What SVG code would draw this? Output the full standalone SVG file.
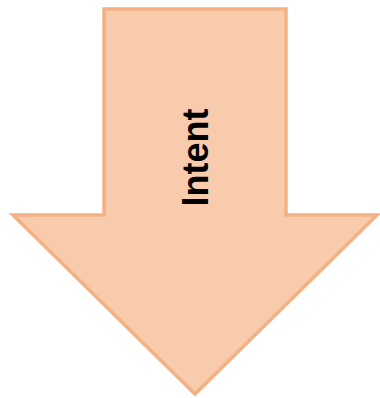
<svg xmlns="http://www.w3.org/2000/svg" width="380" height="398" viewBox="0 0 380 398">
<style>
.arrow{fill:#F8CBAD;stroke:#F4B183;stroke-width:3.5;stroke-linejoin:miter}
.lbl{font-family:"Liberation Sans",Arial,sans-serif;font-weight:bold;font-size:36px;fill:#000}
</style>
<g id="intent-arrow">
<polygon class="arrow" points="104,9 286,9 286,215 377,215 195,394 13,215 104,215"/>
<text class="lbl" transform="translate(208,157.5) rotate(-90)" text-anchor="middle">Intent</text>
</g>
<g id="connectors"></g>
</svg>
